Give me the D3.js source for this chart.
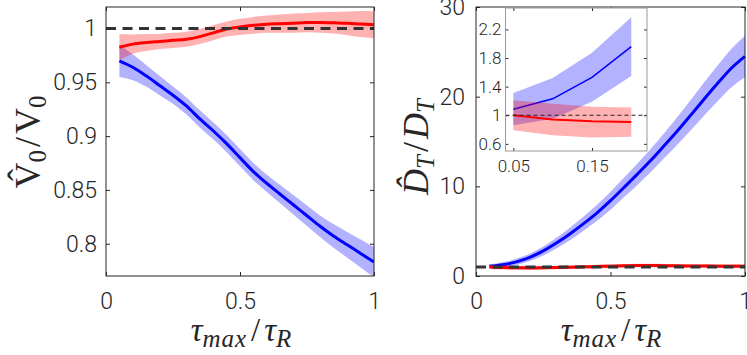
<!DOCTYPE html>
<html>
<head>
<meta charset="utf-8">
<script src="https://cdn.jsdelivr.net/npm/d3@7"></script>
<style>
  html, body { margin: 0; padding: 0; background: #fff; }
  svg { display: block; }
  .tick text { font-family: Roboto, "Liberation Sans", sans-serif; font-weight: 300; fill: #262626; }
  .tick line { stroke: #262626; }
  .math { font-family: "Liberation Serif", "DejaVu Serif", serif; fill: #262626; }
</style>
</head>
<body>
<div id="chart"></div>
<script>
// sample positions tau_max / tau_R
const TAU = [0.05, 0.10, 0.15, 0.20, 0.25, 0.30, 0.35, 0.40, 0.45, 0.50,
             0.55, 0.60, 0.65, 0.70, 0.75, 0.80, 0.85, 0.90, 0.95, 1.00];

// left panel: V0hat / V0
const V_BLUE     = [0.970, 0.964, 0.956, 0.947, 0.938, 0.928, 0.916, 0.905, 0.893, 0.880,
                    0.867, 0.856, 0.846, 0.836, 0.826, 0.816, 0.807, 0.799, 0.791, 0.783];
const V_BLUE_ERR = [0.015, 0.012, 0.010, 0.009, 0.008, 0.008, 0.008, 0.008, 0.008, 0.008,
                    0.008, 0.008, 0.0085, 0.009, 0.0095, 0.010, 0.011, 0.012, 0.013, 0.014];
const V_RED      = [0.9826, 0.9855, 0.987, 0.988, 0.989, 0.990, 0.9925, 0.996, 0.9995, 1.0015,
                    1.003, 1.004, 1.0045, 1.005, 1.0055, 1.0056, 1.0053, 1.0048, 1.0042, 1.0035];
const V_RED_ERR  = [0.012, 0.009, 0.008, 0.007, 0.007, 0.007, 0.007, 0.007, 0.007, 0.0075,
                    0.0078, 0.008, 0.0085, 0.009, 0.009, 0.0095, 0.010, 0.011, 0.012, 0.0125];

// right panel: DThat / DT
const D_BLUE     = [1.08, 1.25, 1.58, 2.08, 2.80, 3.70, 4.72, 5.84, 7.05, 8.40,
                    9.87, 11.36, 12.90, 14.55, 16.23, 18.00, 19.80, 21.55, 23.20, 24.50];
const D_BLUE_ERR = [0.22, 0.28, 0.34, 0.41, 0.50, 0.60, 0.70, 0.80, 0.90, 1.00,
                    1.10, 1.20, 1.30, 1.40, 1.55, 1.70, 1.85, 2.00, 2.15, 2.30];
const D_RED      = [1.00, 0.94, 0.915, 0.905, 0.92, 0.95, 0.98, 1.02, 1.06, 1.10,
                    1.14, 1.18, 1.17, 1.15, 1.13, 1.12, 1.11, 1.10, 1.10, 1.10];
const D_RED_ERR  = [0.21, 0.22, 0.21, 0.20, 0.20, 0.20, 0.20, 0.20, 0.20, 0.20,
                    0.20, 0.20, 0.20, 0.20, 0.20, 0.20, 0.20, 0.20, 0.20, 0.20];

// inset (first four samples)
const INSET_TAU      = [0.05, 0.10, 0.15, 0.20];
const INSET_BLUE_LO  = [0.86, 0.95, 1.19, 1.55];
const INSET_BLUE_HI  = [1.31, 1.52, 1.875, 2.37];
const INSET_BLUE     = [1.085, 1.23, 1.53, 1.96];
const INSET_RED_LO   = [0.79, 0.72, 0.69, 0.70];
const INSET_RED_HI   = [1.21, 1.16, 1.12, 1.11];
const INSET_RED      = [1.00, 0.94, 0.915, 0.905];

const LEFT_YTICKS  = [0.8, 0.85, 0.9, 0.95, 1];
const RIGHT_YTICKS = [0, 10, 20, 30];
const XTICKS       = [0, 0.5, 1];
const INSET_XTICKS = [0.05, 0.15];
const INSET_YTICKS = [0.6, 1, 1.4, 1.8, 2.2];

const W = 747, H = 355;
const BLUE = '#0000ff', RED = '#ff0000';

const svg = d3.select('#chart').append('svg')
  .attr('width', W).attr('height', H);

function rows(xs, ys, err) {
  return xs.map((x, i) => ({ x, y: ys[i], lo: ys[i] - err[i], hi: ys[i] + err[i] }));
}

function axesBox(g, x, y, opt) {
  const [x0, x1] = x.range();
  const [y1, y0] = y.range();
  const tl = opt.tick;
  g.append('g').attr('transform', `translate(0,${y1})`)
    .call(d3.axisBottom(x).tickValues(opt.xt).tickSize(-tl).tickPadding(opt.xpad)
      .tickFormat(opt.xfmt || d3.format('')))
    .call(s => s.select('.domain').remove())
    .selectAll('text').style('font-size', opt.fs + 'px');
  g.append('g').attr('transform', `translate(0,${y0})`)
    .call(d3.axisTop(x).tickValues(opt.xt).tickSize(-tl).tickFormat(''))
    .call(s => s.select('.domain').remove());
  g.append('g').attr('transform', `translate(${x0},0)`)
    .call(d3.axisLeft(y).tickValues(opt.yt).tickSize(-tl).tickPadding(opt.ypad)
      .tickFormat(opt.yfmt || d3.format('')))
    .call(s => s.select('.domain').remove())
    .selectAll('text').style('font-size', opt.fs + 'px');
  g.append('g').attr('transform', `translate(${x1},0)`)
    .call(d3.axisRight(y).tickValues(opt.yt).tickSize(-tl).tickFormat(''))
    .call(s => s.select('.domain').remove());
  g.append('rect')
    .attr('x', x0).attr('y', y0).attr('width', x1 - x0).attr('height', y1 - y0)
    .attr('fill', 'none').attr('stroke', opt.boxColor || '#262626').attr('stroke-width', 1);
}

function drawSeries(g, x, y, data, color, lw, curve, alpha) {
  g.append('path').datum(data)
    .attr('fill', color).attr('fill-opacity', alpha)
    .attr('d', d3.area().x(d => x(d.x)).y0(d => y(d.lo)).y1(d => y(d.hi)).curve(curve));
  g.append('path').datum(data)
    .attr('fill', 'none').attr('stroke', color).attr('stroke-width', lw)
    .attr('d', d3.line().x(d => x(d.x)).y(d => y(d.y)).curve(curve));
}

function refLine(g, x, y, val, lw, dash, color) {
  const [a, b] = x.domain();
  g.append('line')
    .attr('x1', x(a)).attr('x2', x(b)).attr('y1', y(val)).attr('y2', y(val))
    .attr('stroke', color).attr('stroke-width', lw).attr('stroke-dasharray', dash);
}

function xLabel(g, cx, cy) {
  const t = g.append('text').attr('class', 'math')
    .attr('x', cx).attr('y', cy).attr('text-anchor', 'middle').style('font-size', '33px');
  t.append('tspan').attr('font-style', 'italic').text('τ');
  t.append('tspan').attr('font-style', 'italic').attr('dy', 6).style('font-size', '25px')
    .style('letter-spacing', '1px').text('max');
  t.append('tspan').attr('dy', -6).attr('dx', 4).text('/');
  t.append('tspan').attr('font-style', 'italic').attr('dx', 4).text('τ');
  t.append('tspan').attr('font-style', 'italic').attr('dy', 6).style('font-size', '25px').text('R');
}

// ---------- left panel ----------
const xL = d3.scaleLinear().domain([0, 1]).range([106, 374]);
const yL = d3.scaleLinear().domain([0.77, 1.02]).range([276, 7]);
const gL = svg.append('g');
const clipL = svg.append('clipPath').attr('id', 'clipL');
clipL.append('rect').attr('x', 106).attr('y', 7).attr('width', 268).attr('height', 269);
const gLd = gL.append('g').attr('clip-path', 'url(#clipL)');
drawSeries(gLd, xL, yL, rows(TAU, V_BLUE, V_BLUE_ERR), BLUE, 3, d3.curveCatmullRom, 0.3);
drawSeries(gLd, xL, yL, rows(TAU, V_RED, V_RED_ERR), RED, 3, d3.curveCatmullRom, 0.3);
refLine(gLd, xL, yL, 1, 3, '10,6.5', '#333');
axesBox(gL, xL, yL, { xt: XTICKS, yt: LEFT_YTICKS, tick: 4, fs: 23, xpad: 17, ypad: 9 });
xLabel(gL, 241, 341);
{
  const t = gL.append('text').attr('class', 'math')
    .attr('transform', 'translate(40,142) rotate(-90)')
    .attr('text-anchor', 'middle').style('font-size', '36px');
  t.append('tspan').text('V\u0302');
  t.append('tspan').attr('dy', 6).style('font-size', '25px').text('0');
  t.append('tspan').attr('dy', -6).attr('dx', 3).text('/');
  t.append('tspan').attr('dx', 3).text('V');
  t.append('tspan').attr('dy', 6).style('font-size', '25px').text('0');
}

// ---------- right panel ----------
const xR = d3.scaleLinear().domain([0, 1]).range([476, 745]);
const yR = d3.scaleLinear().domain([0, 30]).range([276, 7]);
const gR = svg.append('g');
const gRd = gR.append('g');
drawSeries(gRd, xR, yR, rows(TAU, D_BLUE, D_BLUE_ERR), BLUE, 3, d3.curveMonotoneX, 0.3);
drawSeries(gRd, xR, yR, rows(TAU, D_RED, D_RED_ERR), RED, 3, d3.curveMonotoneX, 0.3);
refLine(gRd, xR, yR, 1, 3, '10,6.5', '#333');
axesBox(gR, xR, yR, { xt: XTICKS, yt: RIGHT_YTICKS, tick: 4, fs: 23, xpad: 17, ypad: 11 });
xLabel(gR, 611, 341);
{
  const t = gR.append('text').attr('class', 'math')
    .attr('transform', 'translate(428,147) rotate(-90)')
    .attr('text-anchor', 'middle').style('font-size', '36px').attr('font-style', 'italic');
  t.append('tspan').text('D\u0302');
  t.append('tspan').attr('dy', 6).style('font-size', '25px').text('T');
  t.append('tspan').attr('dy', -6).attr('dx', 3).attr('font-style', 'normal').text('/');
  t.append('tspan').attr('dx', 3).text('D');
  t.append('tspan').attr('dy', 6).style('font-size', '25px').text('T');
}

// ---------- inset ----------
const xI = d3.scaleLinear().domain([0.04, 0.22]).range([505.5, 647]);
const yI = d3.scaleLinear().domain([0.5, 2.5]).range([151, 8]);
const gI = svg.append('g');
gI.append('rect').attr('x', 505.5).attr('y', 8).attr('width', 141.5).attr('height', 143).attr('fill', '#fff');
const inBlue = INSET_TAU.map((x, i) => ({ x, y: INSET_BLUE[i], lo: INSET_BLUE_LO[i], hi: INSET_BLUE_HI[i] }));
const inRed = INSET_TAU.map((x, i) => ({ x, y: INSET_RED[i], lo: INSET_RED_LO[i], hi: INSET_RED_HI[i] }));
drawSeries(gI, xI, yI, inBlue, BLUE, 1.5, d3.curveLinear, 0.3);
drawSeries(gI, xI, yI, inRed, RED, 2, d3.curveLinear, 0.3);
refLine(gI, xI, yI, 1, 1, '4,3', '#222');
axesBox(gI, xI, yI, { xt: INSET_XTICKS, yt: INSET_YTICKS, tick: 3, fs: 17, xpad: 9, ypad: 4,
  boxColor: '#999', yfmt: d3.format('~g') });
</script>
</body>
</html>
